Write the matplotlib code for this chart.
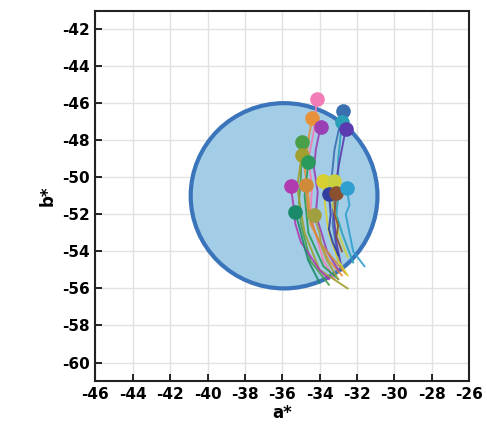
import matplotlib
matplotlib.use("Agg")
import matplotlib.pyplot as plt
from matplotlib.patches import Circle

plt.rcParams['axes.unicode_minus'] = False

# tolerance circle (a*, b*, radius)
circle_center = (-35.9, -51.0)
circle_radius = 5.0

# trajectories: first point is the start dot
track_colors = ['#f27db6', '#e8913a', '#9b3fb5', '#3a6fb0', '#2aa0b8', '#5a3bb0',
                '#4aa04a', '#a0a030', '#2a9a5a', '#b03ab0', '#d08a3a', '#d8d030',
                '#c8d040', '#3040a0', '#8a5030', '#30a0d0', '#1a8a6a', '#a0a040']
track_a = [
    [-34.15, -34.3, -34.6, -34.4, -34.5, -33.8, -33.2],
    [-34.4, -34.6, -34.8, -34.6, -34.5, -33.5, -32.8],
    [-33.95, -34.2, -34.3, -34.1, -34.2, -33.6, -33.0],
    [-32.75, -33.2, -33.4, -33.2, -33.3, -33.0],
    [-32.8, -33.0, -33.0, -33.1, -32.8, -32.2],
    [-32.6, -33.0, -33.3, -33.2, -33.1, -32.8],
    [-34.95, -35.0, -35.1, -35.0, -34.5, -33.5],
    [-34.95, -35.2, -35.0, -34.8, -34.0, -32.5],
    [-34.6, -34.8, -34.7, -34.6, -33.8, -33.0],
    [-35.55, -35.4, -35.3, -35.0, -34.0, -33.5],
    [-34.75, -34.6, -34.3, -34.0, -33.2, -32.6],
    [-33.8, -33.7, -33.6, -33.5, -33.0, -32.5],
    [-33.25, -33.3, -33.1, -33.0, -32.5],
    [-33.5, -33.4, -33.5, -33.3, -33.0],
    [-33.1, -33.2, -33.0, -33.1, -32.8],
    [-32.55, -32.4, -32.6, -32.5, -32.2, -31.6],
    [-35.3, -35.0, -34.8, -34.6, -34.0],
    [-34.3, -34.0, -33.9, -33.6, -33.0],
]
track_b = [
    [-45.8, -47.5, -49.0, -50.5, -52.0, -54.5, -55.5],
    [-46.8, -48.0, -49.5, -51.0, -52.5, -54.5, -55.3],
    [-47.3, -48.5, -49.5, -50.8, -52.0, -54.0, -55.0],
    [-46.4, -48.5, -50.5, -51.5, -52.5, -54.5],
    [-47.0, -49.0, -51.0, -52.0, -53.0, -54.6],
    [-47.4, -49.5, -51.5, -52.5, -53.5, -55.0],
    [-48.1, -50.0, -51.3, -52.5, -54.5, -55.8],
    [-48.8, -50.5, -51.8, -53.0, -55.0, -56.0],
    [-49.2, -51.0, -52.0, -53.0, -54.8, -55.5],
    [-50.45, -51.5, -52.5, -53.5, -55.0, -55.5],
    [-50.4, -52.0, -52.8, -53.5, -54.5, -55.2],
    [-50.2, -51.5, -52.3, -53.0, -54.5, -55.3],
    [-50.2, -51.5, -52.3, -53.0, -54.3],
    [-50.9, -52.0, -52.8, -53.5, -54.2],
    [-50.85, -52.0, -52.6, -53.2, -54.0],
    [-50.6, -51.5, -52.0, -52.5, -54.0, -54.8],
    [-51.9, -53.0, -53.8, -54.5, -55.7],
    [-52.05, -53.0, -53.7, -54.5, -55.5],
]

x_ticks = list(range(-46, -25, 2))
y_ticks = list(range(-60, -41, 2))

fig = plt.figure(figsize=(4.87, 4.38), dpi=100)
ax = fig.add_axes([0.196, 0.130, 0.767, 0.846])

ax.add_patch(Circle(circle_center, circle_radius, facecolor='#a3cde6',
                    edgecolor='#3a74ba', linewidth=3, zorder=2))

for col, a, b in zip(track_colors, track_a, track_b):
    ax.plot(a, b, color=col, linewidth=1.4, alpha=0.9, zorder=3)
for col, a, b in zip(track_colors, track_a, track_b):
    ax.plot(a[0], b[0], 'o', color=col, markersize=9.5, zorder=4)

ax.set_xlim(-46, -26)
ax.set_ylim(-61, -41)
ax.set_xticks(x_ticks)
ax.set_yticks(y_ticks)
ax.grid(True, color='#e2e2e2', linewidth=1, zorder=0)
ax.set_axisbelow(True)
ax.tick_params(direction='in', length=5, width=1.2, labelsize=11, pad=4)
for lab in ax.get_xticklabels() + ax.get_yticklabels():
    lab.set_fontweight('bold')
for sp in ax.spines.values():
    sp.set_linewidth(1.5)
    sp.set_color('#222222')
ax.set_xlabel('a*', fontsize=12, fontweight='bold', labelpad=2)
ax.set_ylabel('b*', fontsize=12, fontweight='bold', labelpad=4)

fig.savefig('out.png', dpi=100)
